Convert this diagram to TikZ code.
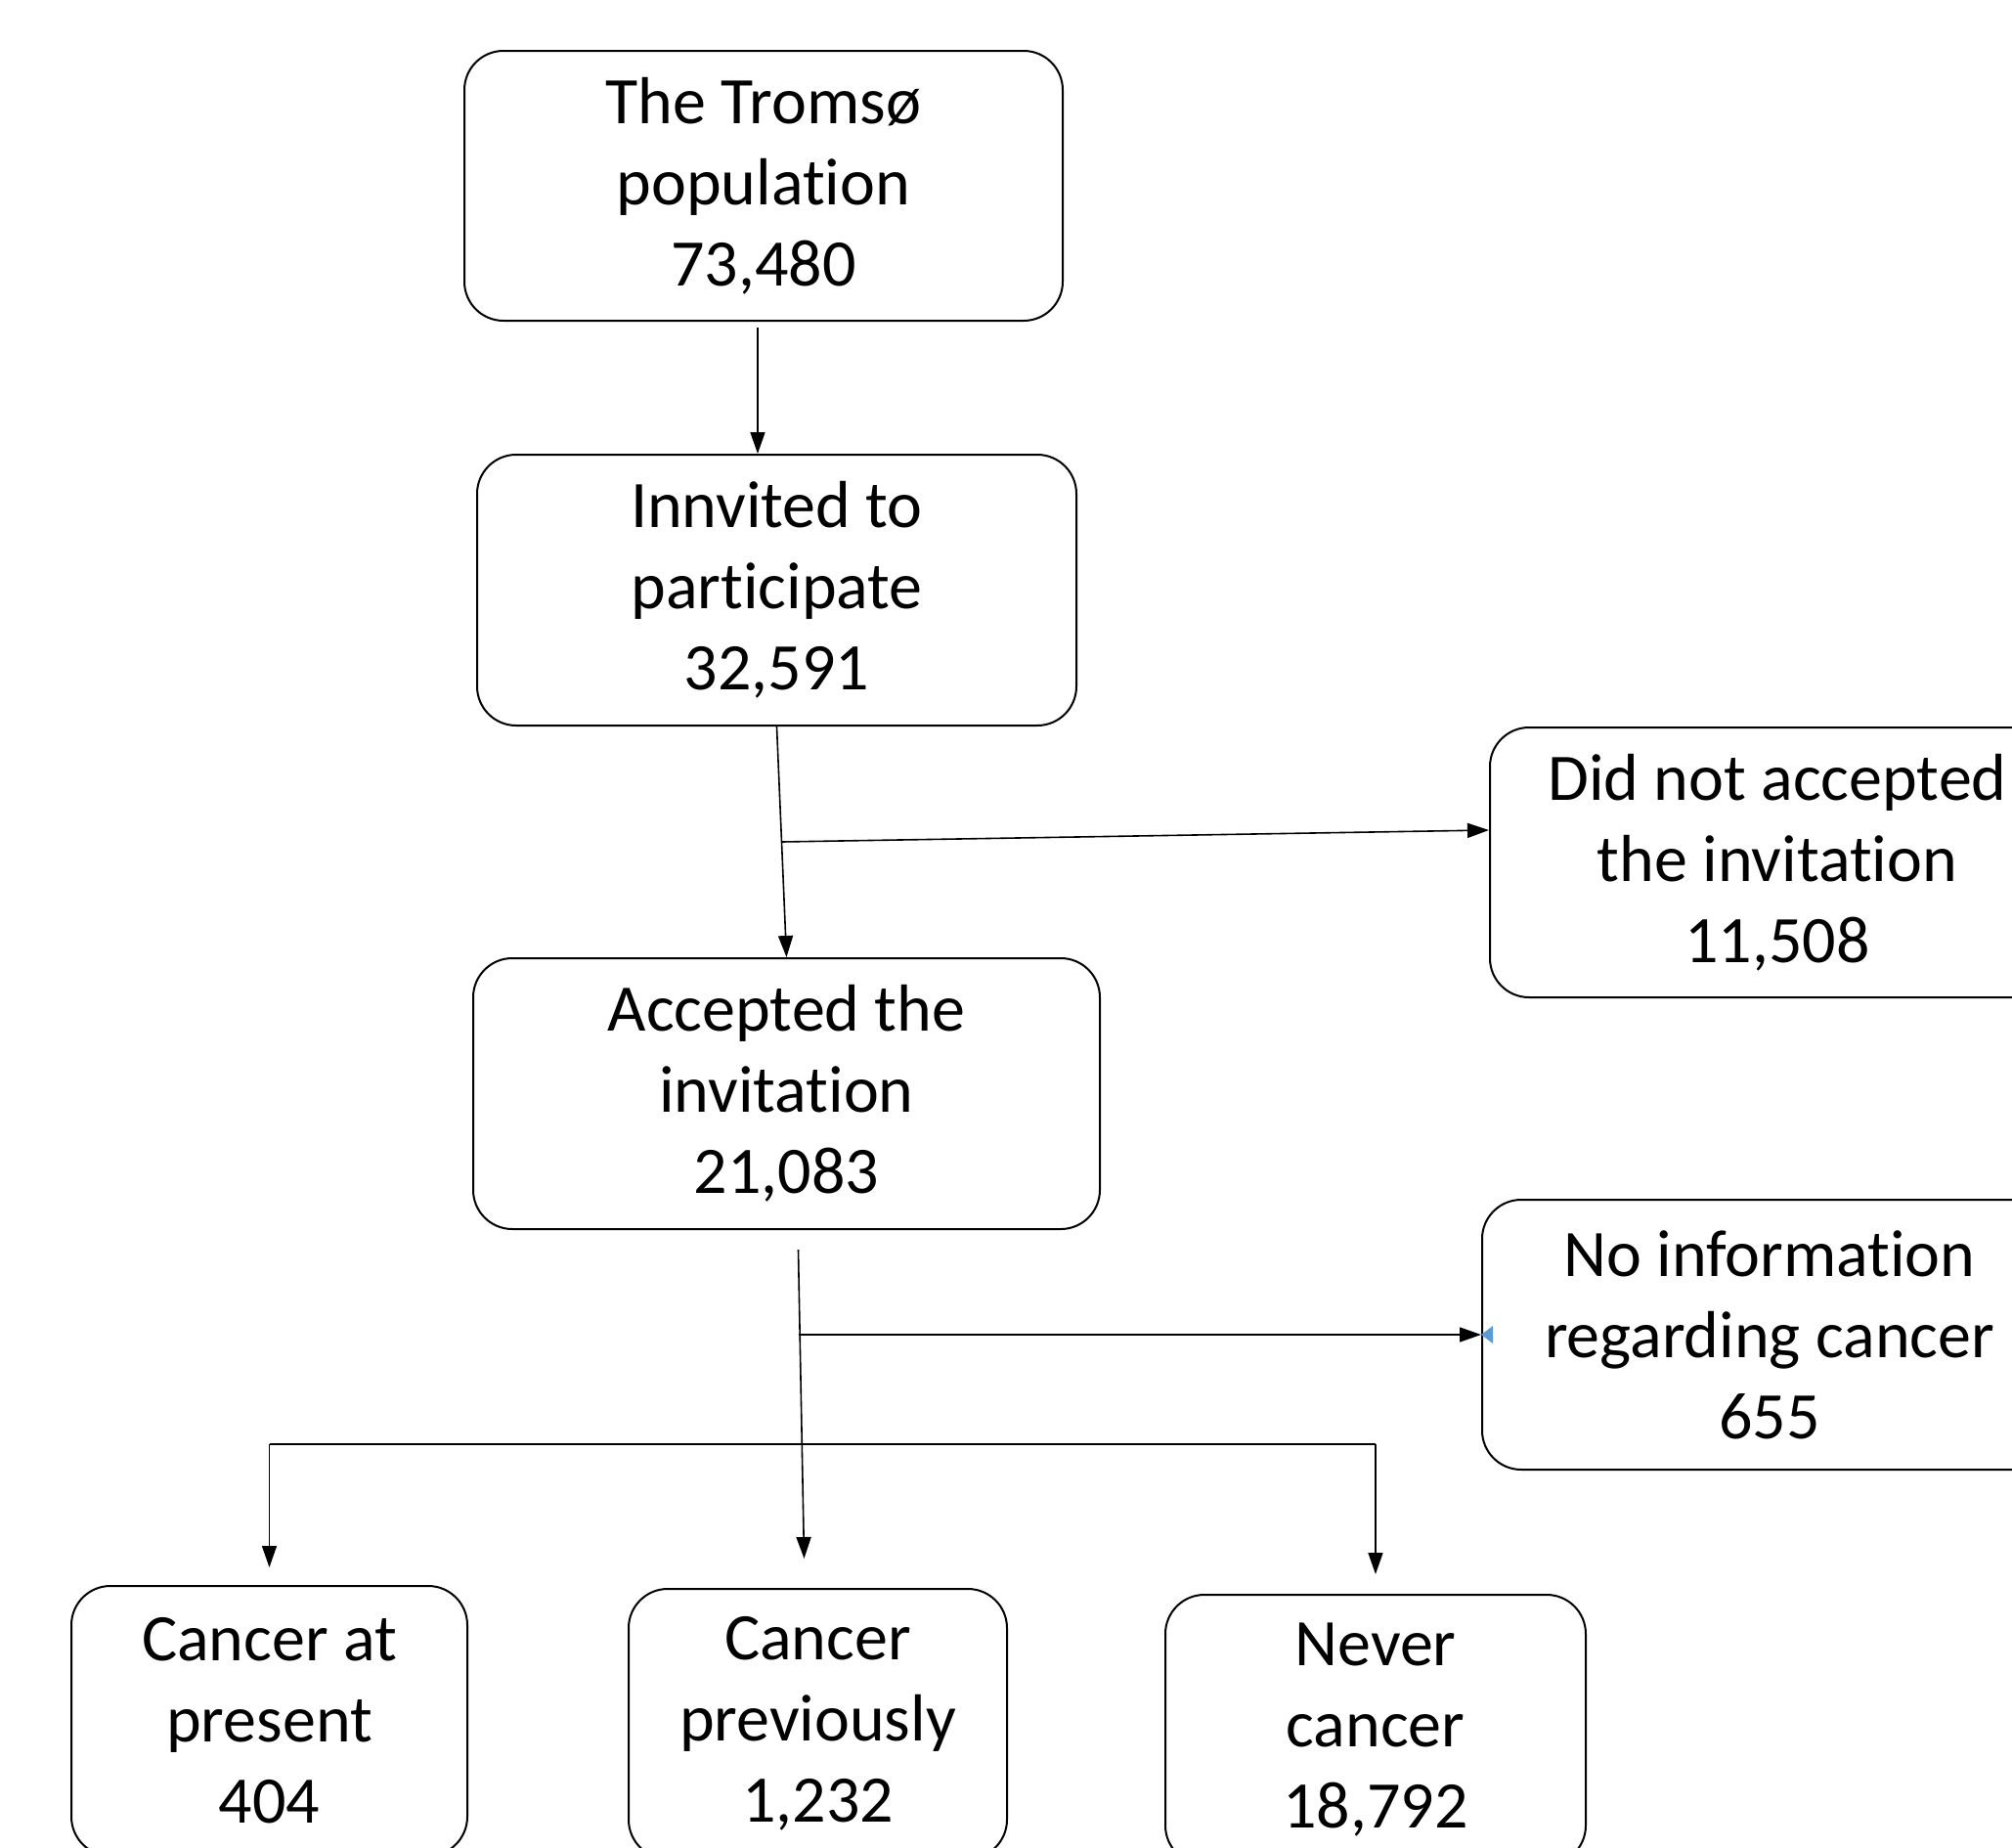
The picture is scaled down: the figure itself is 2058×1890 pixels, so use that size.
\documentclass[tikz,border=0pt]{standalone}
\usepackage{fontspec}
\setmainfont[Ligatures=NoCommon]{Carlito}
\usepackage{tikz}
\usetikzlibrary{arrows.meta, calc}
\definecolor{markblue}{RGB}{91,155,213}
\newcommand{\tikern}{t\kern0pt i}

\begin{document}
\begin{tikzpicture}[x=0.5pt, y=-0.5pt,
    box/.style={draw, line width=1pt, rounded corners=20pt, align=center, inner sep=0pt,
                font=\fontsize{34}{41.5}\selectfont},
    arr/.style={-{Triangle[length=11pt, width=7.5pt]}, line width=0.8pt}]
                  % Frame
                  \useasboundingbox (0,0) rectangle (2058,1890);
                  \clip (0,0) rectangle (2058,1890);

                  % Draw boxes
                  \node[box, minimum width=306pt, minimum height=138pt] (pop) at (781,190) {The Tromsø\\popula\tikern on\\73,480};
                  \node[box, minimum width=306.5pt, minimum height=138.5pt] (inv) at (794.5,603.5) {Innvited to\\par\tikern cipate\\32,591};
                  \node[box, minimum width=294pt, minimum height=138pt] (notacc) at (1818,882) {Did not accepted\\the invita\tikern on\\11,508};
                  \node[box, minimum width=320.5pt, minimum height=138.5pt] (acc) at (804.5,1118.5) {Accepted the\\invita\tikern on\\21,083};
                  \node[box, minimum width=294pt, minimum height=138pt] (noinfo) at (1810,1365) {No informa\tikern on\\regarding cancer\\655};
                  \node[box, minimum width=202.5pt, minimum height=138pt] (present) at (275.5,1760) {Cancer at\\present\\404};
                  \node[box, minimum width=193.5pt, minimum height=138pt] (prev) at (836.5,1763) {Cancer\\previously\\1,232};
                  \node[box, minimum width=215pt, minimum height=138pt] (never) at (1407,1769) {Never\\cancer\\18,792};

                  % Define points
                  \coordinate (p0) at ([xshift=-3pt, yshift=-3pt]pop.south);
                  \coordinate (b1) at ($(inv.south)!0.5!(acc.north)$);
                  \coordinate (a0) at ([xshift=6pt, yshift=-10pt]acc.south);
                  \coordinate (a1) at ([xshift=-7pt, yshift=15pt]prev.north);
                  \coordinate (split) at ($(a0)!0.63!(a1)$);

                  % Arrows
                  \draw[arr] (p0) -- (p0 |- inv.north);
                  \draw[arr] (inv.south) -- (acc.north);
                  \draw[arr] (b1) -- ([yshift=16.5pt]notacc.west);
                  \draw[arr] (a0) -- (a1);
                  \draw[arr] (noinfo.west -| a0) -- (noinfo.west);
                  \fill[markblue] (noinfo.west) -- ++(12,-9) -- ++(0,18) -- cycle;
                  \draw[line width=0.8pt] (present.north |- split) -- (never.north |- split);
                  \draw[arr] (present.north |- split) -- ([yshift=9pt]present.north);
                  \draw[arr] (never.north |- split) -- ([yshift=10pt]never.north);

              \end{tikzpicture}
\end{document}
